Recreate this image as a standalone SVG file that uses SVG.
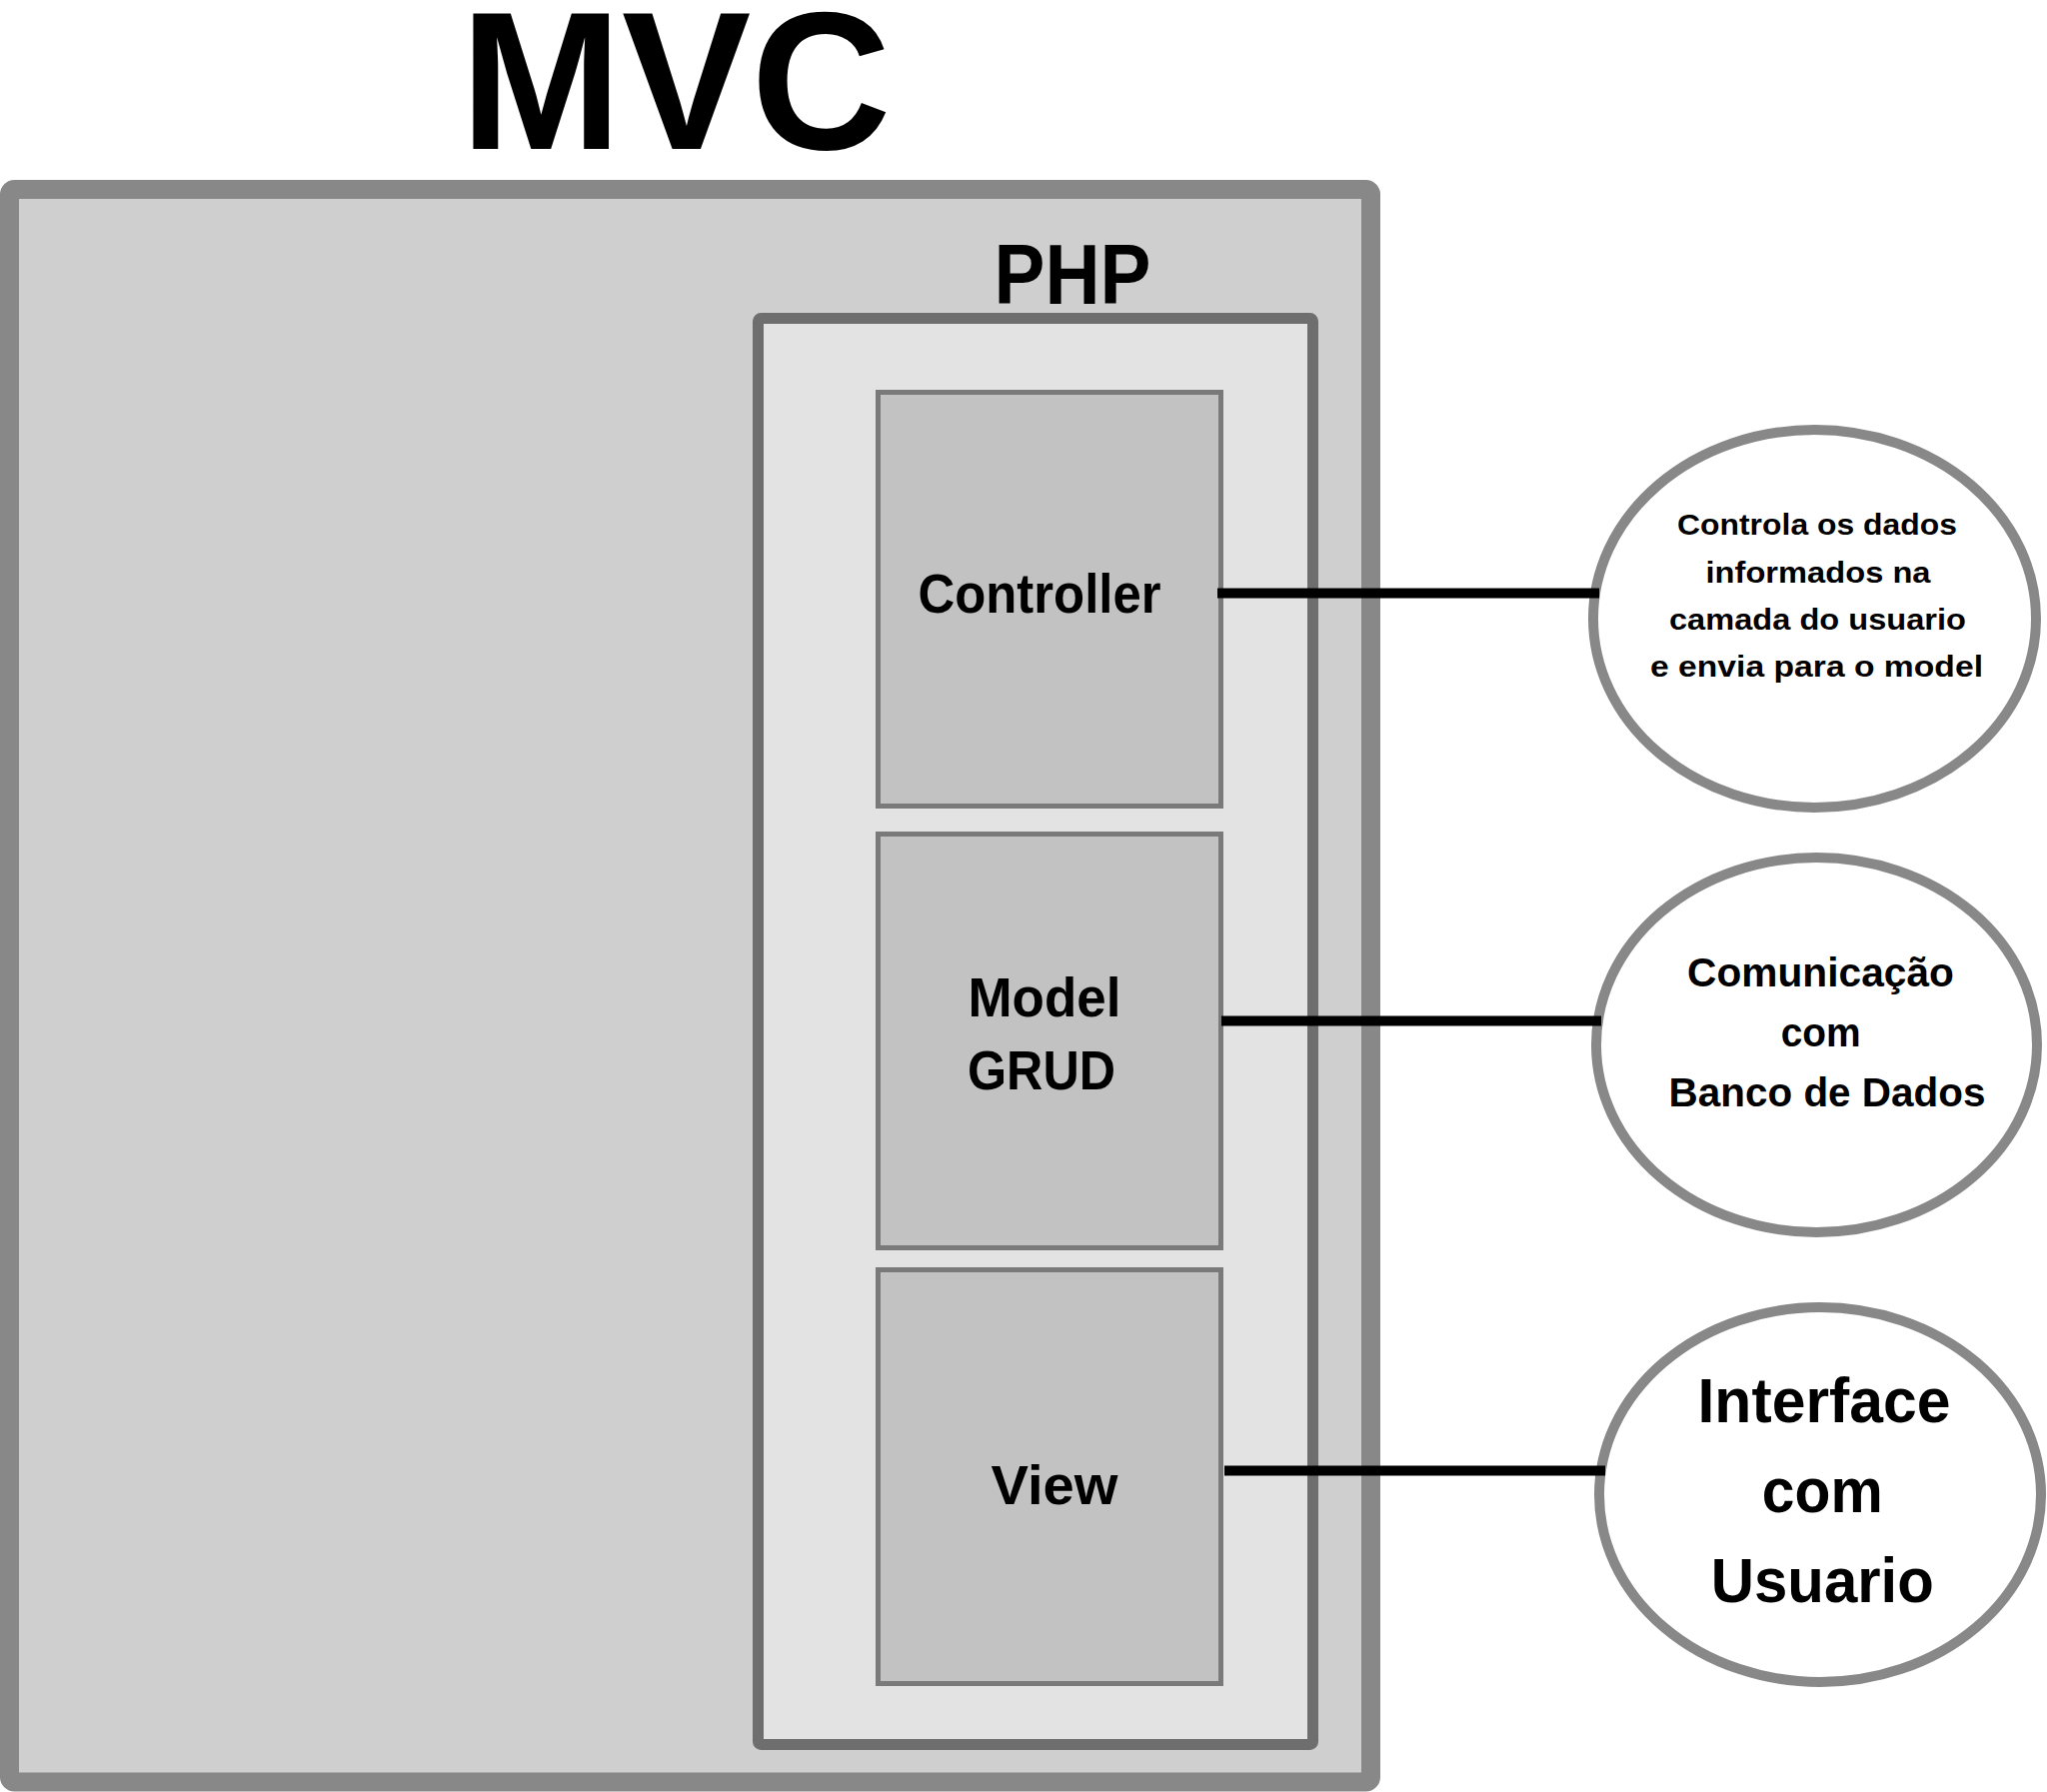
<svg xmlns="http://www.w3.org/2000/svg" width="2048" height="1793" viewBox="0 0 2048 1793">
<style>
  .t { font-family: "Liberation Sans", Arial, sans-serif; font-weight: bold; fill: #000; text-anchor: middle; }
  .box { fill: #c2c2c2; stroke: #7a7a7a; stroke-width: 5; }
  .oval { fill: #ffffff; stroke: #888888; stroke-width: 10; }
  .conn { stroke: #000; stroke-width: 10; fill: none; }
</style>
<rect width="2048" height="1793" fill="#ffffff"/>
<text id="title" class="t" x="676" y="149" font-size="196" textLength="431" lengthAdjust="spacingAndGlyphs">MVC</text>
<g id="mvc">
  <rect x="9.5" y="189.5" width="1362" height="1593.5" rx="5" fill="#cfcfcf" stroke="#888888" stroke-width="19"/>
</g>
<g id="php">
  <text class="t" x="1073" y="304" font-size="86" textLength="157" lengthAdjust="spacingAndGlyphs">PHP</text>
  <rect x="758.5" y="318.5" width="555" height="1427" rx="3" fill="#e3e3e3" stroke="#6e6e6e" stroke-width="11"/>
</g>
<g id="controller">
  <rect class="box" x="878.5" y="392.5" width="343" height="414"/>
  <text class="t" x="1040" y="613" font-size="55" textLength="243" lengthAdjust="spacingAndGlyphs">Controller</text>
</g>
<g id="model">
  <rect class="box" x="878.5" y="834.5" width="343" height="414"/>
  <text class="t" x="1045" y="1017" font-size="55" textLength="153" lengthAdjust="spacingAndGlyphs">Model</text>
  <text class="t" x="1042" y="1090" font-size="55" textLength="148" lengthAdjust="spacingAndGlyphs">GRUD</text>
</g>
<g id="view">
  <rect class="box" x="878.5" y="1270.5" width="343" height="414"/>
  <text class="t" x="1055" y="1505" font-size="55" textLength="127" lengthAdjust="spacingAndGlyphs">View</text>
</g>
<g id="controller-note">
  <ellipse class="oval" cx="1815.5" cy="619" rx="221.5" ry="189"/>
  <text class="t" x="1818" y="535" font-size="29" textLength="280" lengthAdjust="spacingAndGlyphs">Controla os dados</text>
  <text class="t" x="1819" y="583" font-size="29" textLength="225" lengthAdjust="spacingAndGlyphs">informados na</text>
  <text class="t" x="1818.5" y="630" font-size="29" textLength="297" lengthAdjust="spacingAndGlyphs">camada do usuario</text>
  <text class="t" x="1817.5" y="677" font-size="29" textLength="333" lengthAdjust="spacingAndGlyphs">e envia para o model</text>
</g>
<g id="model-note">
  <ellipse class="oval" cx="1817.5" cy="1045.5" rx="220.5" ry="187.5"/>
  <text class="t" x="1821.5" y="987" font-size="40" textLength="267" lengthAdjust="spacingAndGlyphs">Comunicação</text>
  <text class="t" x="1821.7" y="1047" font-size="40" textLength="80" lengthAdjust="spacingAndGlyphs">com</text>
  <text class="t" x="1828" y="1107" font-size="40" textLength="317" lengthAdjust="spacingAndGlyphs">Banco de Dados</text>
</g>
<g id="view-note">
  <ellipse class="oval" cx="1821" cy="1495.5" rx="221" ry="187.5"/>
  <text class="t" x="1825" y="1423" font-size="63" textLength="253" lengthAdjust="spacingAndGlyphs">Interface</text>
  <text class="t" x="1823.3" y="1513" font-size="63" textLength="121" lengthAdjust="spacingAndGlyphs">com</text>
  <text class="t" x="1823.3" y="1603" font-size="63" textLength="223" lengthAdjust="spacingAndGlyphs">Usuario</text>
</g>
<g id="connectors">
  <line class="conn" x1="1218" y1="593.5" x2="1600" y2="593.5"/>
  <line class="conn" x1="1222" y1="1021.5" x2="1602" y2="1021.5"/>
  <line class="conn" x1="1225" y1="1471.5" x2="1606" y2="1471.5"/>
</g>
</svg>
